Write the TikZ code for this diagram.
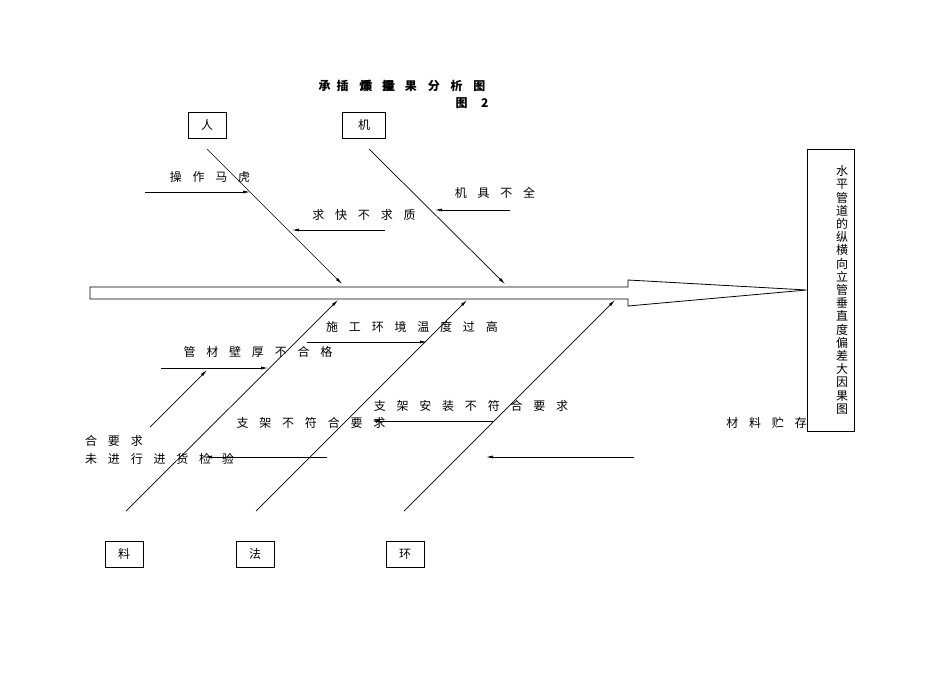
\documentclass[tikz,border=0pt]{standalone}
\usepackage{fontspec}
\newfontfamily\cjk{Noto Sans CJK SC}
\newfontfamily\cjks[LetterSpace=90]{Noto Sans CJK SC}
\begin{document}
\begin{tikzpicture}[x=1pt,y=-1pt,
  bx/.style={draw,line width=0.8pt,minimum width=38pt,minimum height=26pt,inner sep=0pt,font=\cjk\fontsize{12}{14}\selectfont},
  lb/.style={inner sep=0pt,font=\cjks\fontsize{12}{14}\selectfont},
  ar/.style={-{Latex[length=7pt,width=3pt]},line width=0.7pt},
  bn/.style={line width=0.8pt}]
\usetikzlibrary{arrows.meta}
\useasboundingbox (0,0) rectangle (950,672);
% title
\node[lb,font=\cjks\bfseries\fontsize{12}{14}\selectfont] (t1) at (402,86) {承\hspace{6pt}插焊接果分析图};
\node[lb,font=\cjks\fontsize{12}{14}\selectfont] (t1b) at (378,86) {\bfseries 质量};
\node[lb,font=\cjks\bfseries\fontsize{12}{14}\selectfont] (t2) at (472,103) {图 2};
% boxes
\node[bx] (ren) at (207,125) {人};
\node[bx,minimum width=43pt] (ji) at (364,125) {机};
\node[bx] (liao) at (124,554) {料};
\node[bx] (fa) at (255,554) {法};
\node[bx] (huan) at (405,554) {环};
\node[draw,line width=0.8pt,minimum width=47pt,minimum height=282pt,inner sep=0pt] (eff) at (830.5,290) {};
\node[inner sep=0pt,font=\cjk\fontsize{12}{13.2}\selectfont,text width=12pt,align=center] (efft) at (842,290) {水\\平\\管\\道\\的\\纵\\横\\向\\立\\管\\垂\\直\\度\\偏\\差\\大\\因\\果\\图};
% spine arrow
\draw[line width=0.8pt] (90,287) -- (628,287) -- (628,280) -- (eff.west) -- (628,306) -- (628,299) -- (90,299) -- cycle;
% bones
\coordinate (r1) at (207,149); \coordinate (r2) at (342,284);
\coordinate (j1) at (369,149); \coordinate (j2) at (505,284);
\coordinate (l1) at (126,511); \coordinate (l2) at (338,300);
\coordinate (f1) at (256,511); \coordinate (f2) at (467,300);
\coordinate (h1) at (404,511); \coordinate (h2) at (615,300);
\foreach \a/\b in {r1/r2,j1/j2,l1/l2,f1/f2,h1/h2} \draw[ar] (\a) -- (\b);
% labels and small arrows
\node[lb] (c1) at (210,177) {操作马虎};
\coordinate (c1a) at (145,192); \coordinate (c1b) at (250,192); \draw[ar] (c1a) -- (c1b);
\node[lb] (c2) at (364,215) {求快不求质};
\coordinate (c2a) at (385,230); \coordinate (c2b) at (292,230); \draw[ar] (c2a) -- (c2b);
\node[lb] (c3) at (495,193) {机具不全};
\coordinate (c3a) at (510,210); \coordinate (c3b) at (435,210); \draw[ar] (c3a) -- (c3b);
\node[lb] (c4) at (412,327) {施工环境温度过高};
\coordinate (c4a) at (307,342); \coordinate (c4b) at (427,342); \draw[ar] (c4a) -- (c4b);
\node[lb] (c5) at (258,352) {管材壁厚不合格};
\coordinate (c5a) at (161,368); \coordinate (c5b) at (268,368); \draw[ar] (c5a) -- (c5b);
\coordinate (c6a) at (150,427); \coordinate (c6b) at (207,370); \draw[ar] (c6a) -- (c6b);
\node[lb] (c7) at (471,406) {支架安装不符合要求};
\coordinate (c7a) at (493,421); \coordinate (c7b) at (372,421); \draw[ar] (c7a) -- (c7b);
\node[lb] (c8) at (311,423) {支架不符合要求};
\node[lb,anchor=west] (c9) at (85,441) {合要求};
\node[lb,anchor=west] (c10) at (85,459) {未进行进货检验};
\coordinate (c10a) at (327,457); \coordinate (c10b) at (205,457); \draw[ar] (c10a) -- (c10b);
\node[lb,anchor=east] (c11) at (807,423) {材料贮存};
\coordinate (c11a) at (634,457); \coordinate (c11b) at (486,457); \draw[ar] (c11a) -- (c11b);
\end{tikzpicture}
\end{document}
